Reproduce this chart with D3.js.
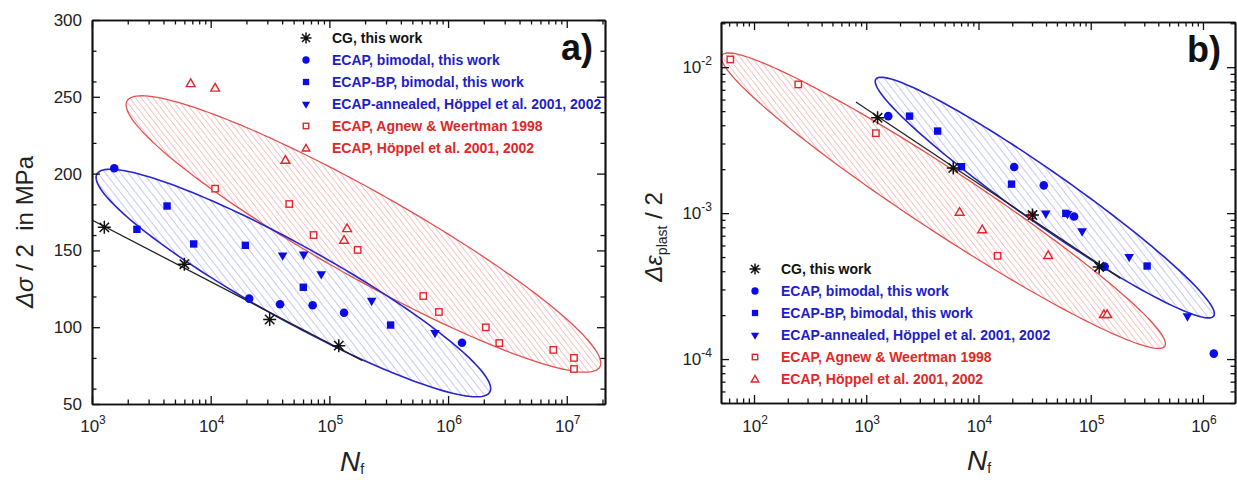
<!DOCTYPE html>
<html>
<head>
<meta charset="utf-8">
<script src="https://cdn.jsdelivr.net/npm/d3@7"></script>
<style>
  body { margin: 0; background: #fff; }
  svg { font-family: Arial, "Liberation Sans", sans-serif; }
</style>
</head>
<body>
<svg id="chart" width="1237" height="480"></svg>
<script>
// ---- panel a) : [N_f, stress amplitude in MPa]
const cgStress = [[1270, 165], [6000, 141], [31400, 105], [120000, 88]];
const bimodalStress = [[1540, 203.5], [21100, 118.6], [38400, 114.9], [72300, 114.3], [133000, 109.4], [1310000, 89.9]];
const bpStress = [[2390, 163.7], [4290, 178.9], [7190, 154.2], [19600, 153.3], [60300, 126], [328000, 101.4]];
const annealedStress = [[40400, 146.8], [60700, 147.4], [85400, 134.6], [227000, 117.3], [776000, 96.4]];
const agnewStress = [[10900, 190.2], [45900, 180.2], [73600, 160], [173000, 150.3], [618000, 120.3], [837000, 109.9],
  [2080000, 99.9], [2700000, 89.7], [7700000, 85.2], [11500000, 80], [11500000, 72.8]];
const hoppelStress = [[6780, 258.8], [10900, 255.9], [42600, 208.9], [133000, 156.8], [141000, 164.4]];
const cgStressFit = [[1000, 169.8], [190000, 78.2]];
// scatter bands: both ends of the long axis, then one end of the short axis
const blueBandA = [[1100, 199.7], [2250000, 57.8], [70500, 150]];
const redBandA = [[1973, 247.3], [19000000, 74.1], [292000, 185.1]];

// ---- panel b) : [N_f, plastic strain amplitude]
const cgStrain = [[1262, 0.0045], [5960, 0.00204], [30300, 0.00097], [119000, 0.000428]];
const bimodalStrain = [[1570, 0.00462], [20800, 0.00207], [38200, 0.00155], [71100, 0.000948], [133000, 0.00043], [1250000, 0.000109]];
const bpStrain = [[2432, 0.00462], [4325, 0.00365], [7060, 0.00208], [19700, 0.00158], [60000, 0.000996], [318000, 0.000434]];
const annealedStrain = [[39800, 0.000996], [62000, 0.00099], [83800, 0.000753], [220000, 0.000502], [728000, 0.000197]];
const agnewStrain = [[61.5, 0.0113], [248, 0.00762], [1219, 0.00353], [14800, 0.00051], [30000, 0.000966]];
const hoppelStrain = [[6790, 0.00102], [10800, 0.000773], [41800, 0.000515], [131000, 0.000203], [140000, 0.000203]];
const cgStrainFit = [[809, 0.00578], [184000, 0.000357]];
const blueBandB = [[1219, 0.00828], [1247000, 0.0001972], [52960, 0.001786]];
const redBandB = [[51.9, 0.01208], [457000, 0.0001227], [6900, 0.001832]];

// ticks and legend
const xTicksA = [1e3, 1e4, 1e5, 1e6, 1e7];
const yTicksA = [50, 100, 150, 200, 250, 300];
const xTicksB = [1e2, 1e3, 1e4, 1e5, 1e6];
const yTicksB = [1e-4, 1e-3, 1e-2];
const legendLabels = ['CG, this work', 'ECAP, bimodal, this work', 'ECAP-BP, bimodal, this work',
  'ECAP-annealed, Höppel et al. 2001, 2002', 'ECAP, Agnew & Weertman 1998', 'ECAP, Höppel et al. 2001, 2002'];

const BLUE = '#0b0be8', RED = '#e4262c';
const legendStyle = [
  { kind: 'star', text: '#111' },
  { kind: 'circle', text: '#1e1ec8' },
  { kind: 'square', text: '#1e1ec8' },
  { kind: 'tri', text: '#1e1ec8' },
  { kind: 'osquare', text: '#e02828' },
  { kind: 'otri', text: '#e02828' }
];

const svg = d3.select('#chart');
svg.append('rect').attr('width', 1237).attr('height', 480).attr('fill', '#fff');
const defs = svg.append('defs');

function hatch(id, color, gap) {
  defs.append('pattern')
    .attr('id', id)
    .attr('patternUnits', 'userSpaceOnUse')
    .attr('width', gap).attr('height', gap)
    .attr('patternTransform', 'rotate(-38)')
    .append('line')
    .attr('x1', 0).attr('y1', 0).attr('x2', 0).attr('y2', gap)
    .attr('stroke', color).attr('stroke-width', 1.1);
}
hatch('hatchBlue', '#9a9aee', 6);
hatch('hatchRed', '#ef9696', 4.6);

// scales
const xA = d3.scaleLog().domain([1e3, 2.1e7]).range([92, 605]);
const yA = d3.scaleLinear().domain([50, 300]).range([404, 20]);
const xB = d3.scaleLog().domain([50.8, 1.93e6]).range([721, 1235]);
const yB = d3.scaleLog().domain([5.0e-5, 2.04e-2]).range([403, 22]);

function bandPath(x, y, pts) {
  const p = pts.map(d => [x(d[0]), y(d[1])]);
  const c = [(p[0][0] + p[1][0]) / 2, (p[0][1] + p[1][1]) / 2];
  const a = [p[1][0] - c[0], p[1][1] - c[1]];
  const b = [p[2][0] - c[0], p[2][1] - c[1]];
  const ring = d3.range(0, 360, 2).map(t => {
    const r = t * Math.PI / 180;
    return [c[0] + a[0] * Math.cos(r) + b[0] * Math.sin(r), c[1] + a[1] * Math.cos(r) + b[1] * Math.sin(r)];
  });
  return d3.line().curve(d3.curveLinearClosed)(ring);
}

function starPath(r) {
  const k = r * 0.72;
  return `M${-r},0H${r}M0,${-r}V${r}M${-k},${-k}L${k},${k}M${-k},${k}L${k},${-k}`;
}

function marker(g, kind, cx, cy, s = 1) {
  if (kind === 'star') {
    g.append('path').attr('d', starPath(6.5 * s)).attr('transform', `translate(${cx},${cy})`)
      .attr('stroke', '#111').attr('stroke-width', 1.5).attr('fill', 'none');
  } else if (kind === 'circle') {
    g.append('circle').attr('cx', cx).attr('cy', cy).attr('r', 4.3 * s).attr('fill', BLUE);
  } else if (kind === 'square') {
    g.append('rect').attr('x', cx - 3.7 * s).attr('y', cy - 3.7 * s)
      .attr('width', 7.4 * s).attr('height', 7.4 * s).attr('fill', BLUE);
  } else if (kind === 'tri') {
    g.append('path').attr('d', d3.symbol(d3.symbolTriangle, 40 * s * s)())
      .attr('transform', `translate(${cx},${cy}) rotate(180)`).attr('fill', BLUE);
  } else if (kind === 'osquare') {
    g.append('rect').attr('x', cx - 3.2 * s).attr('y', cy - 3.2 * s)
      .attr('width', 6.4 * s).attr('height', 6.4 * s)
      .attr('fill', '#fff').attr('stroke', RED).attr('stroke-width', 1.4);
  } else if (kind === 'otri') {
    g.append('path').attr('d', d3.symbol(d3.symbolTriangle, 34 * s * s)())
      .attr('transform', `translate(${cx},${cy + 0.8})`)
      .attr('fill', '#fff').attr('stroke', RED).attr('stroke-width', 1.4);
  }
}

function series(g, x, y, data, kind) {
  data.forEach(d => marker(g, kind, x(d[0]), y(d[1])));
}

function frame(x, y, xMajor, yMajor, yMinor) {
  const [x0, x1] = x.range(), [y0, y1] = y.range();
  const g = svg.append('g').attr('class', 'axes');
  const xMinor = x.ticks().filter(v => !xMajor.includes(v));
  const setup = sel => sel.call(s => s.select('.domain').attr('stroke', '#111').attr('stroke-width', 1.7))
    .call(s => s.selectAll('.tick line').attr('stroke', '#111').attr('stroke-width', 1.3));
  // bottom & top
  [[y0, d3.axisBottom], [y1, d3.axisTop]].forEach(([pos, ax]) => {
    g.append('g').attr('transform', `translate(0,${pos})`)
      .call(ax(x).tickValues(xMajor).tickSize(-8).tickSizeOuter(0).tickFormat(''))
      .call(setup);
    g.append('g').attr('transform', `translate(0,${pos})`)
      .call(ax(x).tickValues(xMinor).tickSize(-4.5).tickSizeOuter(0).tickFormat(''))
      .call(setup);
  });
  // left & right
  [[x0, d3.axisLeft], [x1, d3.axisRight]].forEach(([pos, ax]) => {
    g.append('g').attr('transform', `translate(${pos},0)`)
      .call(ax(y).tickValues(yMajor).tickSize(-8).tickSizeOuter(0).tickFormat(''))
      .call(setup);
    g.append('g').attr('transform', `translate(${pos},0)`)
      .call(ax(y).tickValues(yMinor).tickSize(-4.5).tickSizeOuter(0).tickFormat(''))
      .call(setup);
  });
}

function powLabel(g, px, py, exp, anchor) {
  const t = g.append('text').attr('x', px).attr('y', py).attr('text-anchor', anchor)
    .attr('font-size', 17).attr('fill', '#222');
  t.append('tspan').text('10');
  t.append('tspan').attr('font-size', 12).attr('dy', -8).text(exp);
}

function legend(x0, y0) {
  const g = svg.append('g');
  legendLabels.forEach((lab, i) => {
    const cy = y0 + i * 22;
    marker(g, legendStyle[i].kind, x0, cy, 0.85);
    g.append('text').attr('x', x0 + 26).attr('y', cy + 5)
      .attr('font-size', 14).attr('font-weight', 'bold')
      .attr('fill', legendStyle[i].text).text(lab);
  });
}

function xTitle(g, px, py) {
  const t = g.append('text').attr('x', px).attr('y', py).attr('font-size', 28).attr('fill', '#222');
  t.append('tspan').attr('font-style', 'italic').text('N');
  t.append('tspan').attr('font-size', 14).attr('dy', 3).text('f');
}

// ---------- panel a
const clipA = defs.append('clipPath').attr('id', 'clipA');
clipA.append('rect').attr('x', 92).attr('y', 20).attr('width', 513).attr('height', 384);
const pa = svg.append('g').attr('clip-path', 'url(#clipA)');
pa.append('path').attr('d', bandPath(xA, yA, redBandA)).attr('fill', 'url(#hatchRed)')
  .attr('stroke', '#e25050').attr('stroke-width', 1.3);
pa.append('path').attr('d', bandPath(xA, yA, blueBandA)).attr('fill', 'url(#hatchBlue)')
  .attr('stroke', '#2626cc').attr('stroke-width', 1.6);
pa.append('path').attr('d', d3.line().x(d => xA(d[0])).y(d => yA(d[1]))(cgStressFit))
  .attr('stroke', '#222').attr('stroke-width', 1.3).attr('fill', 'none');
series(pa, xA, yA, agnewStress, 'osquare');
series(pa, xA, yA, hoppelStress, 'otri');
series(pa, xA, yA, bimodalStress, 'circle');
series(pa, xA, yA, bpStress, 'square');
series(pa, xA, yA, annealedStress, 'tri');
series(pa, xA, yA, cgStress, 'star');

frame(xA, yA, xTicksA, yTicksA, yA.ticks(10).filter(v => !yTicksA.includes(v)));
const la = svg.append('g');
xTicksA.forEach(v => powLabel(la, xA(v) + 1, 432, Math.log10(v), 'middle'));
yTicksA.forEach(v => la.append('text').attr('x', 82).attr('y', yA(v) + 6).attr('text-anchor', 'end')
  .attr('font-size', 17).attr('fill', '#222').text(v));
xTitle(la, 340, 471);

const ytA = la.append('text').attr('transform', 'translate(33,232) rotate(-90)')
  .attr('text-anchor', 'middle').attr('font-size', 24).attr('fill', '#222');
ytA.append('tspan').attr('font-style', 'italic').text('Δσ');
ytA.append('tspan').text(' / 2\u00a0\u00a0in MPa');

la.append('text').attr('x', 561).attr('y', 60).attr('font-size', 36).attr('font-weight', 'bold')
  .attr('fill', '#111').text('a)');
legend(306, 38);

// ---------- panel b
const clipB = defs.append('clipPath').attr('id', 'clipB');
clipB.append('rect').attr('x', 721).attr('y', 22).attr('width', 514).attr('height', 381);
const pb = svg.append('g').attr('clip-path', 'url(#clipB)');
pb.append('path').attr('d', bandPath(xB, yB, redBandB)).attr('fill', 'url(#hatchRed)')
  .attr('stroke', '#e25050').attr('stroke-width', 1.3);
pb.append('path').attr('d', bandPath(xB, yB, blueBandB)).attr('fill', 'url(#hatchBlue)')
  .attr('stroke', '#2626cc').attr('stroke-width', 1.6);
pb.append('path').attr('d', d3.line().x(d => xB(d[0])).y(d => yB(d[1]))(cgStrainFit))
  .attr('stroke', '#222').attr('stroke-width', 1.3).attr('fill', 'none');
series(pb, xB, yB, agnewStrain, 'osquare');
series(pb, xB, yB, hoppelStrain, 'otri');
series(pb, xB, yB, bimodalStrain, 'circle');
series(pb, xB, yB, bpStrain, 'square');
series(pb, xB, yB, annealedStrain, 'tri');
series(pb, xB, yB, cgStrain, 'star');

frame(xB, yB, xTicksB, yTicksB, yB.ticks().filter(v => !yTicksB.some(t => Math.abs(t - v) / t < 1e-6)));
const lb = svg.append('g');
xTicksB.forEach(v => powLabel(lb, xB(v) + 1, 432, Math.round(Math.log10(v)), 'middle'));
yTicksB.forEach(v => powLabel(lb, 712, yB(v) + 6, '-' + Math.round(-Math.log10(v)), 'end'));
xTitle(lb, 967, 470);

const ytB = lb.append('text').attr('transform', 'translate(662,237) rotate(-90)')
  .attr('text-anchor', 'middle').attr('font-size', 24).attr('fill', '#222');
ytB.append('tspan').attr('font-style', 'italic').text('Δε');
ytB.append('tspan').attr('font-size', 14).attr('dy', 5).text('plast');
ytB.append('tspan').attr('dy', -5).text(' / 2');

lb.append('text').attr('x', 1187).attr('y', 62).attr('font-size', 36).attr('font-weight', 'bold')
  .attr('fill', '#111').text('b)');
legend(755, 269);
</script>
</body>
</html>
